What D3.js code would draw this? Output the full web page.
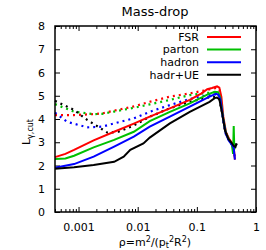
<!DOCTYPE html>
<html>
<head>
<meta charset="utf-8">
<script src="https://cdn.jsdelivr.net/npm/d3@7"></script>
<style>
  body { margin: 0; background: #fff; }
  svg { font-family: "DejaVu Sans", sans-serif; }
</style>
</head>
<body>
<div id="graf"></div>
<script>
// datos: [rho, L]
const fsr = [[0.0004,2.36],[0.0006,2.5],[0.00084,2.67],[0.0018,3.08],[0.004,3.45],[0.0086,3.8],[0.016,4.1],[0.035,4.46],[0.076,4.82],[0.12,5.1],[0.15,5.28],[0.18,5.33],[0.22,5.4],[0.24,5.35],[0.26,4.95],[0.28,4.1],[0.31,3.45],[0.35,3.15],[0.40,2.95],[0.42,2.8],[0.44,2.25]];
const parton = [[0.0004,2.28],[0.0006,2.3],[0.00084,2.42],[0.0018,2.78],[0.004,3.1],[0.0086,3.45],[0.016,3.91],[0.035,4.31],[0.076,4.67],[0.15,5.05],[0.2,5.17],[0.23,5.15],[0.25,4.9],[0.28,4.0],[0.31,3.4],[0.35,3.1],[0.39,2.9],[0.41,2.5],[0.42,3.7],[0.43,2.7],[0.44,2.8]];
const hadron = [[0.0004,1.9],[0.00084,2.06],[0.0018,2.38],[0.004,2.81],[0.0086,3.24],[0.016,3.67],[0.035,4.1],[0.076,4.53],[0.164,4.96],[0.21,5.08],[0.23,5.05],[0.25,4.85],[0.28,3.95],[0.31,3.35],[0.35,3.05],[0.39,2.9],[0.42,2.75],[0.44,2.25]];
const hadrUE = [[0.0004,1.86],[0.00084,1.92],[0.0018,2.02],[0.004,2.16],[0.0058,2.38],[0.0075,2.67],[0.0125,2.95],[0.016,3.2],[0.035,3.81],[0.076,4.31],[0.164,4.74],[0.2,4.9],[0.22,4.92],[0.24,4.85],[0.27,4.2],[0.3,3.5],[0.34,3.15],[0.38,3.0],[0.42,2.85],[0.45,2.8],[0.47,2.95]];

// curvas punteadas
const fsrDot = [[0.0004,4.17],[0.00084,4.17],[0.0018,4.21],[0.0025,4.24],[0.004,4.36],[0.0086,4.54],[0.016,4.74],[0.035,4.96],[0.076,5.1],[0.15,5.25],[0.22,5.35],[0.25,5.2]];
const partonDot = [[0.0004,4.64],[0.00084,4.31],[0.0018,4.21],[0.0025,4.22],[0.004,4.32],[0.0086,4.48],[0.016,4.63],[0.035,4.82],[0.076,5.03],[0.15,5.12],[0.22,5.15],[0.25,4.9]];
const hadronDot = [[0.0004,4.27],[0.00064,3.88],[0.0014,3.64],[0.0025,3.67],[0.004,3.81],[0.0086,4.03],[0.016,4.31],[0.035,4.6],[0.076,4.86],[0.15,5.02],[0.21,5.06],[0.25,4.85],[0.28,3.95],[0.31,3.35],[0.35,3.05],[0.39,2.9],[0.42,2.75],[0.44,2.3]];
const hadrUEDot = [[0.0004,4.78],[0.00084,4.39],[0.0014,3.96],[0.0025,3.56],[0.0031,3.41],[0.0047,3.45],[0.0086,3.72],[0.016,4.1],[0.035,4.46],[0.076,4.74],[0.15,4.92],[0.21,4.95],[0.24,4.85],[0.27,4.2],[0.3,3.5],[0.34,3.15],[0.38,3.0],[0.42,2.85],[0.45,2.8],[0.47,2.95]];

const nombres = ["FSR", "parton", "hadron", "hadr+UE"];
const colores = ["#ff0000", "#00c000", "#0000ff", "#000000"];
const solidas = [fsr, parton, hadron, hadrUE];
const punteadas = [fsrDot, partonDot, hadronDot, hadrUEDot];

const xTicks = [0.001, 0.01, 0.1, 1];
const yTicks = [0, 1, 2, 3, 4, 5, 6, 7, 8];

// Dimensiones
const anchoTotal = 266, altoTotal = 250;
const margins = { top: 26, right: 10, bottom: 38, left: 55 };
const ancho = anchoTotal - margins.left - margins.right;
const alto = altoTotal - margins.top - margins.bottom;

const svg = d3.select("#graf").append("svg")
  .attr("width", anchoTotal)
  .attr("height", altoTotal);

const g = svg.append("g")
  .attr("transform", `translate(${margins.left}, ${margins.top})`);

// Escaladores
const x = d3.scaleLog().domain([0.0004, 1]).range([0, ancho]);
const y = d3.scaleLinear().domain([0, 8]).range([alto, 0]);

// ticks menores en x
const minores = [];
[0.0001, 0.001, 0.01, 0.1].forEach(d => {
  for (let k = 2; k <= 9; k++) {
    const v = d * k;
    if (v >= 0.0004 && v < 1) minores.push(v);
  }
});

const fmt = d => String(d);

// Ejes abajo y arriba
g.append("g").attr("transform", `translate(0, ${alto})`)
  .call(d3.axisBottom(x).tickValues(xTicks).tickFormat(fmt).tickSizeInner(-5).tickSizeOuter(0).tickPadding(11))
  .call(a => a.select(".domain").remove());
g.append("g").attr("transform", `translate(0, ${alto})`)
  .call(d3.axisBottom(x).tickValues(minores).tickFormat("").tickSizeInner(-3).tickSizeOuter(0))
  .call(a => a.select(".domain").remove());
g.append("g")
  .call(d3.axisTop(x).tickValues(xTicks).tickFormat("").tickSizeInner(-5).tickSizeOuter(0))
  .call(a => a.select(".domain").remove());
g.append("g")
  .call(d3.axisTop(x).tickValues(minores).tickFormat("").tickSizeInner(-3).tickSizeOuter(0))
  .call(a => a.select(".domain").remove());

// Ejes izquierda y derecha
g.append("g")
  .call(d3.axisLeft(y).tickValues(yTicks).tickSizeInner(-5).tickSizeOuter(0).tickPadding(10))
  .call(a => a.select(".domain").remove());
g.append("g").attr("transform", `translate(${ancho}, 0)`)
  .call(d3.axisRight(y).tickValues(yTicks).tickFormat("").tickSizeInner(-5).tickSizeOuter(0))
  .call(a => a.select(".domain").remove());

g.selectAll(".tick text").attr("font-size", 11).attr("fill", "#000")
  .attr("font-family", "DejaVu Sans, sans-serif");
g.selectAll(".tick line").attr("stroke", "#000");

// Lineas
const linea = d3.line().x(d => x(d[0])).y(d => y(d[1]));

punteadas.forEach((serie, i) => {
  g.append("path").datum(serie)
    .attr("d", linea)
    .attr("fill", "none")
    .attr("stroke", colores[i])
    .attr("stroke-width", 2.2)
    .attr("stroke-dasharray", "2,4");
});

solidas.forEach((serie, i) => {
  g.append("path").datum(serie)
    .attr("d", linea)
    .attr("fill", "none")
    .attr("stroke", colores[i])
    .attr("stroke-width", 2);
});

// marco
g.append("rect")
  .attr("width", ancho).attr("height", alto)
  .attr("fill", "none").attr("stroke", "#000").attr("stroke-width", 1.5);

// Leyenda
const leyenda = g.append("g");
nombres.forEach((n, i) => {
  const yy = 11 + i * 12.6;
  leyenda.append("text")
    .attr("x", 144).attr("y", yy).attr("dy", "0.35em")
    .attr("text-anchor", "end").attr("font-size", 11)
    .text(n);
  leyenda.append("line")
    .attr("x1", 152).attr("x2", 186)
    .attr("y1", yy).attr("y2", yy)
    .attr("stroke", colores[i]).attr("stroke-width", 2);
});

// Títulos
svg.append("text")
  .attr("x", 155).attr("y", 16)
  .attr("text-anchor", "middle").attr("font-size", 13)
  .text("Mass-drop");

const xl = svg.append("text")
  .attr("x", 155).attr("y", 246)
  .attr("text-anchor", "middle").attr("font-size", 11);
xl.append("tspan").text("ρ=m");
xl.append("tspan").attr("dy", -4).attr("font-size", 8).text("2");
xl.append("tspan").attr("dy", 4).text("/(p");
xl.append("tspan").attr("dy", 2).attr("font-size", 8).text("t");
xl.append("tspan").attr("dy", -6).attr("font-size", 8).text("2");
xl.append("tspan").attr("dy", 4).text("R");
xl.append("tspan").attr("dy", -4).attr("font-size", 8).text("2");
xl.append("tspan").attr("dy", 4).text(")");

const yl = svg.append("text")
  .attr("transform", "translate(30, 132) rotate(-90)")
  .attr("text-anchor", "middle").attr("font-size", 11);
yl.append("tspan").text("L");
yl.append("tspan").attr("dy", 3).attr("font-size", 8).text("γ,cut");
</script>
</body>
</html>
